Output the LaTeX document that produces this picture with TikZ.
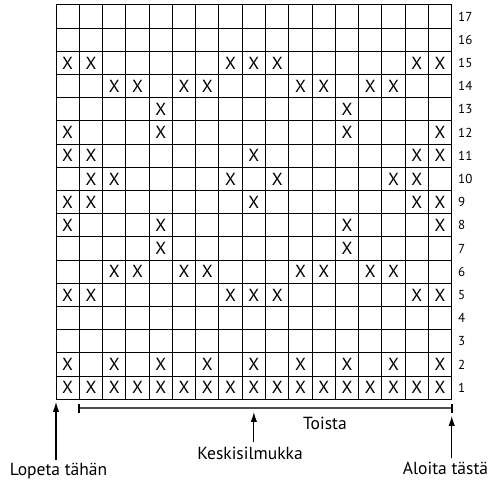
\documentclass[tikz,border=0pt]{standalone}
\usepackage{fontspec}
\setmainfont{PT Sans}
\usetikzlibrary{arrows.meta,calc}
\begin{document}
\begin{tikzpicture}[x=1pt,y=-1pt,
  gridline/.style={line width=1pt},
  xmark/.style={inner sep=0pt,font=\fontsize{17.5}{17.5}\selectfont},
  rownum/.style={anchor=west,inner sep=0pt,font=\fontsize{13}{13}\selectfont},
  label/.style={inner sep=0pt,font=\fontsize{17.5}{17.5}\selectfont},
  uparrow/.style={line width=1.1pt,-{Latex[length=10pt,width=6.5pt]}},
  bracket/.style={line width=1.6pt,draw=black!70},
  tick/.style={line width=1.6pt}]
\useasboundingbox (0,0) rectangle (491,484);
\def\L{56}\def\T{5}\def\cw{23.28}\def\ch{23.2}
% grid
\foreach \i in {0,...,17}{
  \draw[gridline] ({\L+\i*\cw},\T) -- ({\L+\i*\cw},{\T+17*\ch});
  \draw[gridline] (\L,{\T+\i*\ch}) -- ({\L+17*\cw},{\T+\i*\ch});
}
% row numbers
\foreach \r in {1,...,17}{
  \node[rownum] (n\r) at (458,{\T+(17.5-\r)*\ch}) {\r};
}
% marks
\foreach \r/\cols in {
  15/{1,2,8,9,10,16,17},
  14/{3,4,6,7,11,12,14,15},
  13/{5,13},
  12/{1,5,13,17},
  11/{1,2,9,16,17},
  10/{2,3,8,10,15,16},
  9/{1,2,9,16,17},
  8/{1,5,13,17},
  7/{5,13},
  6/{3,4,6,7,11,12,14,15},
  5/{1,2,8,9,10,16,17},
  2/{1,3,5,7,9,11,13,15,17},
  1/{1,2,3,4,5,6,7,8,9,10,11,12,13,14,15,16,17}}{
  \foreach \c in \cols {
    \node[xmark] (x-\r-\c) at ({\L+(\c-0.5)*\cw},{\T+(17.5-\r)*\ch}) {X};
  }
}
% bracket
\coordinate (bl) at ({\L+\cw},408.3);
\coordinate (br) at ({\L+17*\cw},408.3);
\draw[bracket] (bl) -- (br);
\draw[tick] ($(bl)+(0,-4.5)$) -- ($(bl)+(0,4.5)$);
\draw[tick] ($(br)+(0,-4.5)$) -- ($(br)+(0,4.5)$);
\node[label] (toista) at (325,423) {Toista};
% labels and arrows
\node[label] (lopeta) at (58.5,471) {Lopeta tähän};
\node[label] (keski) at (250,453) {Keskisilmukka};
\node[label] (aloita) at (445.5,468) {Aloita tästä};
\coordinate (lt) at (\L,402);
\coordinate (lb) at (\L,460);
\coordinate (kt) at ({\L+8.5*\cw},412);
\coordinate (kb) at ({\L+8.5*\cw},442);
\coordinate (at) at ({\L+17*\cw},416);
\coordinate (ab) at ({\L+17*\cw},458);
\draw[uparrow] (lb) -- (lt);
\draw[uparrow] (kb) -- (kt);
\draw[uparrow] (ab) -- (at);
\end{tikzpicture}
\end{document}
